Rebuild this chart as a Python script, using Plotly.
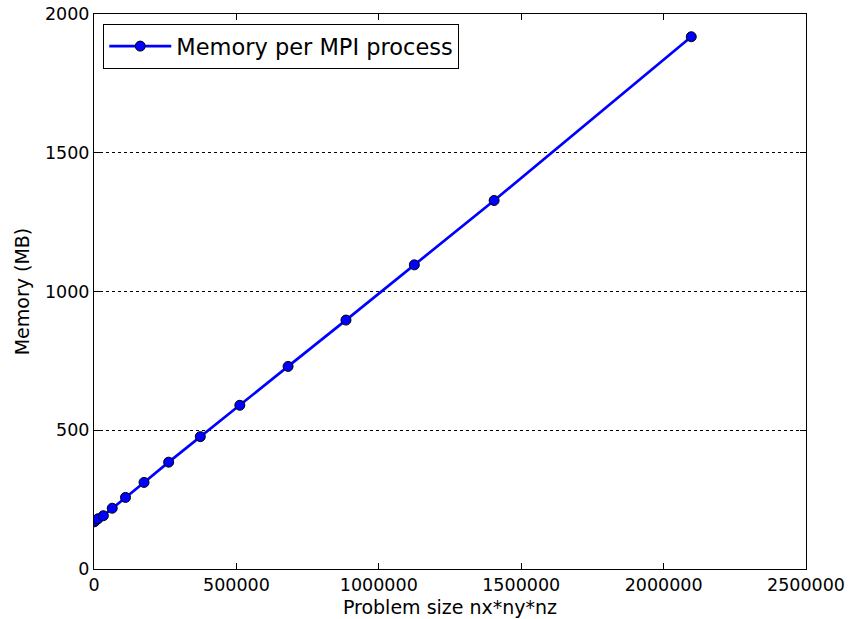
import plotly.graph_objects as go

problem_size = [512, 4096, 13824, 32768, 64000, 110592, 175616, 262144, 373248,
                512000, 681472, 884736, 1124864, 1404928, 2097152]
memory_mb = [170, 173, 181, 192, 219, 258, 312, 385, 477,
             590, 730, 897, 1096, 1328, 1918]

x_ticks = [0, 500000, 1000000, 1500000, 2000000, 2500000]
y_ticks = [0, 500, 1000, 1500, 2000]

fig = go.Figure()
fig.add_trace(go.Scatter(
    x=problem_size, y=memory_mb, mode="lines+markers",
    name="Memory per MPI process",
    line=dict(color="#0000ff", width=2.7),
    marker=dict(symbol="circle", size=10, color="#0000ff",
                line=dict(color="black", width=1)),
))

font = "DejaVu Sans, sans-serif"
fig.update_layout(
    width=854, height=619,
    margin=dict(l=94, r=48, t=14, b=50, autoexpand=False),
    paper_bgcolor="white", plot_bgcolor="white",
    font=dict(family=font, size=17.5, color="black"),
    showlegend=True,
    legend=dict(x=0.013, y=0.982, xanchor="left", yanchor="top",
                bordercolor="black", borderwidth=1, bgcolor="white",
                itemwidth=62,
                font=dict(size=22.5, family=font)),
    xaxis=dict(range=[0, 2500000], tickvals=x_ticks,
               ticktext=[str(v) for v in x_ticks],
               showgrid=False, zeroline=False, automargin=False,
               showline=True, linecolor="black", linewidth=1, mirror="ticks",
               ticks="inside", ticklen=6, tickcolor="black",
               tickfont=dict(size=17.5),
               title=dict(text="Problem size nx*ny*nz", font=dict(size=19), standoff=6)),
    yaxis=dict(range=[0, 2000], tickvals=y_ticks,
               ticktext=[str(v) for v in y_ticks],
               showgrid=True, gridcolor="black", griddash="dot", gridwidth=1,
               zeroline=False, automargin=False,
               showline=True, linecolor="black", linewidth=1, mirror="ticks",
               ticks="inside", ticklen=6, tickcolor="black",
               tickfont=dict(size=17.5),
               title=dict(text="Memory (MB)", font=dict(size=19), standoff=10)),
)

fig.write_html("out.html")
